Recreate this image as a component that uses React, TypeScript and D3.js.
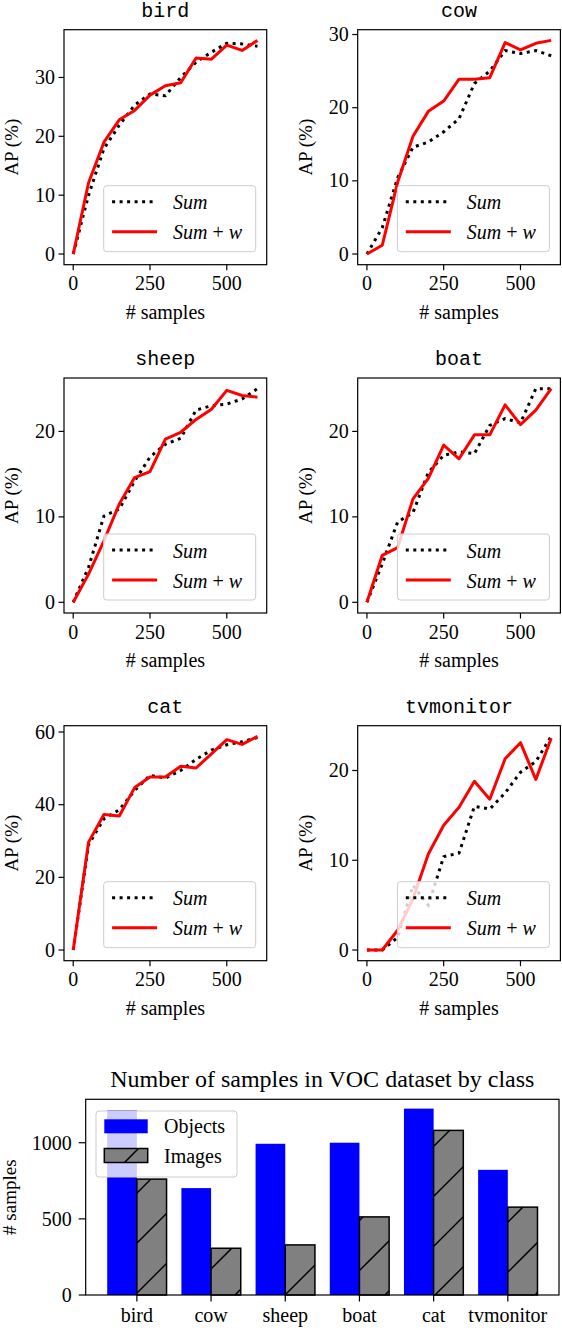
import React, { useEffect, useRef } from 'react';
import * as d3 from 'd3';

// sample counts on the x axis of every panel
const samples = [0, 50, 100, 150, 200, 250, 300, 350, 400, 450, 500, 550, 600];
const xTicks = [0, 250, 500];

const birdSum = [0, 10, 17.9, 21.9, 25.3, 27.2, 26.9, 30, 32.6, 34.3, 35.8, 35.7, 35.3];
const birdSumW = [0, 12.1, 19, 22.8, 24.4, 27, 28.6, 29.1, 33.3, 33.1, 35.5, 34.6, 36.3];
const cowSum = [0, 3.6, 10.4, 14.6, 15.3, 16.7, 18.5, 23.3, 25, 27.8, 27.4, 27.8, 27.1];
const cowSumW = [0, 1.2, 9.8, 16.1, 19.5, 20.9, 23.9, 23.9, 24.1, 28.9, 27.9, 28.8, 29.2];
const sheepSum = [0, 4.1, 10.1, 10.9, 14.2, 17, 18.5, 19.2, 22.5, 23, 23.2, 23.8, 25];
const sheepSumW = [0, 3.3, 7.2, 11.5, 14.6, 15.3, 19.1, 19.9, 21.4, 22.6, 24.8, 24.2, 24];
const boatSum = [0, 4.5, 9.4, 10.5, 15.2, 17.2, 17.6, 17.4, 20.7, 21.5, 21, 25, 25];
const boatSumW = [0, 5.5, 6.4, 12.1, 14.5, 18.4, 16.8, 19.6, 19.6, 23.1, 20.8, 22.5, 25];
const catSum = [0, 29, 36.1, 38.6, 43.9, 48.1, 47.3, 49.4, 52.5, 55, 56.5, 57.3, 58.5];
const catSumW = [0, 29.7, 37.3, 36.9, 44.7, 47.6, 47.6, 50.6, 50.1, 54, 57.9, 56.6, 58.8];
const tvSum = [0, 0, 1.4, 7.2, 5, 10.4, 10.8, 16, 15.7, 17.5, 19.8, 21, 23.8];
const tvSumW = [0, 0, 2.2, 5.7, 10.7, 13.9, 15.9, 18.8, 16.8, 21.3, 23.1, 19, 23.6];

// bar chart
const classNames = ['bird', 'cow', 'sheep', 'boat', 'cat', 'tvmonitor'];
const objectCounts = [1212, 702, 993, 1000, 1224, 822];
const imageCounts = [761, 307, 329, 513, 1081, 577];
const countTicks = [0, 500, 1000];

const SERIF = '"Liberation Serif", "Times New Roman", serif';
const MONO = '"Liberation Mono", "DejaVu Sans Mono", monospace';

const App = () => {
  const ref = useRef<SVGSVGElement>(null);

  useEffect(() => {
    const svg = d3.select(ref.current);
    svg.selectAll('*').remove();

    const panels = [
      { name: 'bird', sum: birdSum, sumW: birdSumW },
      { name: 'cow', sum: cowSum, sumW: cowSumW },
      { name: 'sheep', sum: sheepSum, sumW: sheepSumW },
      { name: 'boat', sum: boatSum, sumW: boatSumW },
      { name: 'cat', sum: catSum, sumW: catSumW },
      { name: 'tvmonitor', sum: tvSum, sumW: tvSumW },
    ];

    const colX = [64, 357.7];
    const rowY = [29.7, 378, 725.7];
    const axW = 202.7;
    const axH = 235;

    panels.forEach((p, i) => {
      const g = svg
        .append('g')
        .attr('transform', `translate(${colX[i % 2]},${rowY[Math.floor(i / 2)]})`);

      const x = d3.scaleLinear().domain([-30, 630]).range([0, axW]);
      const maxV = d3.max([...p.sum, ...p.sumW]) as number;
      const pad = maxV * 0.05;
      const y = d3.scaleLinear().domain([-pad, maxV + pad]).range([axH, 0]);

      const line = d3
        .line<number>()
        .x((_, k) => x(samples[k]))
        .y((d) => y(d));

      g.append('path')
        .attr('d', line(p.sum))
        .attr('fill', 'none')
        .attr('stroke', 'black')
        .attr('stroke-width', 3)
        .attr('stroke-dasharray', '3,4.5');

      g.append('path')
        .attr('d', line(p.sumW))
        .attr('fill', 'none')
        .attr('stroke', '#ff0000')
        .attr('stroke-width', 3)
        .attr('stroke-linejoin', 'round');

      // x ticks
      xTicks.forEach((t) => {
        g.append('line')
          .attr('x1', x(t)).attr('x2', x(t))
          .attr('y1', axH).attr('y2', axH + 5.5)
          .attr('stroke', 'black').attr('stroke-width', 1.2);
        g.append('text')
          .attr('x', x(t)).attr('y', axH + 25.5)
          .attr('text-anchor', 'middle')
          .attr('font-family', SERIF).attr('font-size', 20)
          .text(t);
      });

      // y ticks
      y.ticks(3).forEach((t) => {
        g.append('line')
          .attr('x1', -5.5).attr('x2', 0)
          .attr('y1', y(t)).attr('y2', y(t))
          .attr('stroke', 'black').attr('stroke-width', 1.2);
        g.append('text')
          .attr('x', -9).attr('y', y(t) + 6.5)
          .attr('text-anchor', 'end')
          .attr('font-family', SERIF).attr('font-size', 20)
          .text(t);
      });

      g.append('rect')
        .attr('width', axW).attr('height', axH)
        .attr('fill', 'none').attr('stroke', 'black').attr('stroke-width', 1.2);

      g.append('text')
        .attr('x', axW / 2).attr('y', -13)
        .attr('text-anchor', 'middle')
        .attr('font-family', MONO).attr('font-size', 20)
        .text(p.name);

      g.append('text')
        .attr('x', axW / 2).attr('y', axH + 54)
        .attr('text-anchor', 'middle')
        .attr('font-family', SERIF).attr('font-size', 20)
        .text('# samples');

      g.append('text')
        .attr('transform', `translate(-46,${axH / 2}) rotate(-90)`)
        .attr('text-anchor', 'middle')
        .attr('font-family', SERIF).attr('font-size', 19)
        .text('AP (%)');

      // legend
      const lw = 152, lh = 66;
      const lg = g.append('g').attr('transform', `translate(${axW - 11 - lw},${axH - 13 - lh})`);
      lg.append('rect')
        .attr('width', lw).attr('height', lh).attr('rx', 3)
        .attr('fill', 'white').attr('fill-opacity', 0.8)
        .attr('stroke', '#cccccc').attr('stroke-width', 1);
      const rows = [16, 46];
      lg.append('line')
        .attr('x1', 8.4).attr('x2', 53.4).attr('y1', rows[0]).attr('y2', rows[0])
        .attr('stroke', 'black').attr('stroke-width', 3).attr('stroke-dasharray', '3,4.5');
      lg.append('line')
        .attr('x1', 8.4).attr('x2', 53.4).attr('y1', rows[1]).attr('y2', rows[1])
        .attr('stroke', '#ff0000').attr('stroke-width', 3);
      lg.append('text')
        .attr('x', 69.4).attr('y', rows[0] + 7.5)
        .attr('font-family', SERIF).attr('font-size', 20).attr('font-style', 'italic')
        .text('Sum');
      const t2 = lg.append('text')
        .attr('x', 69.4).attr('y', rows[1] + 7.5)
        .attr('font-family', SERIF).attr('font-size', 20)
        .style('white-space', 'pre');
      t2.append('tspan').attr('font-style', 'italic').text('Sum');
      t2.append('tspan').text(' + ');
      t2.append('tspan').attr('font-style', 'italic').text('w');
    });

    // ---- bar chart ----
    const bx0 = 85.7, bx1 = 559, by0 = 1099.3, by1 = 1295;
    const bx = d3.scaleLinear().domain([-0.69, 5.69]).range([bx0, bx1]);
    const maxCount = d3.max([...objectCounts, ...imageCounts]) as number;
    const by = d3.scaleLinear().domain([0, maxCount * 1.05]).range([by1, by0]);
    const bw = 0.4;

    const defs = svg.append('defs');
    const pat = defs
      .append('pattern')
      .attr('id', 'hatch')
      .attr('patternUnits', 'userSpaceOnUse')
      .attr('width', 50).attr('height', 50);
    pat.append('line').attr('x1', -5).attr('y1', 35).attr('x2', 35).attr('y2', -5)
      .attr('stroke', 'black').attr('stroke-width', 1.5);
    pat.append('line').attr('x1', 25).attr('y1', 55).attr('x2', 55).attr('y2', 25)
      .attr('stroke', 'black').attr('stroke-width', 1.5);

    classNames.forEach((_, i) => {
      svg.append('rect')
        .attr('x', bx(i - bw)).attr('y', by(objectCounts[i]))
        .attr('width', bx(i) - bx(i - bw)).attr('height', by(0) - by(objectCounts[i]))
        .attr('fill', '#0000ff');
    });
    classNames.forEach((_, i) => {
      const r = {
        x: bx(i), y: by(imageCounts[i]),
        w: bx(i + bw) - bx(i), h: by(0) - by(imageCounts[i]),
      };
      svg.append('rect')
        .attr('x', r.x).attr('y', r.y).attr('width', r.w).attr('height', r.h)
        .attr('fill', '#808080');
      svg.append('rect')
        .attr('x', r.x).attr('y', r.y).attr('width', r.w).attr('height', r.h)
        .attr('fill', 'url(#hatch)')
        .attr('stroke', 'black').attr('stroke-width', 1.5);
    });

    svg.append('rect')
      .attr('x', bx0).attr('y', by0).attr('width', bx1 - bx0).attr('height', by1 - by0)
      .attr('fill', 'none').attr('stroke', 'black').attr('stroke-width', 1.2);

    classNames.forEach((c, i) => {
      svg.append('line')
        .attr('x1', bx(i)).attr('x2', bx(i)).attr('y1', by1).attr('y2', by1 + 6.5)
        .attr('stroke', 'black').attr('stroke-width', 1.2);
      svg.append('text')
        .attr('x', bx(i)).attr('y', 1321.5)
        .attr('text-anchor', 'middle')
        .attr('font-family', SERIF).attr('font-size', 20)
        .text(c);
    });
    countTicks.forEach((t) => {
      svg.append('line')
        .attr('x1', bx0 - 7).attr('x2', bx0).attr('y1', by(t)).attr('y2', by(t))
        .attr('stroke', 'black').attr('stroke-width', 1.2);
      svg.append('text')
        .attr('x', bx0 - 14).attr('y', by(t) + 7)
        .attr('text-anchor', 'end')
        .attr('font-family', SERIF).attr('font-size', 20)
        .text(t);
    });

    svg.append('text')
      .attr('x', (bx0 + bx1) / 2).attr('y', 1086.5)
      .attr('text-anchor', 'middle')
      .attr('font-family', SERIF).attr('font-size', 24)
      .text('Number of samples in VOC dataset by class');

    svg.append('text')
      .attr('transform', `translate(16,${(by0 + by1) / 2}) rotate(-90)`)
      .attr('text-anchor', 'middle')
      .attr('font-family', SERIF).attr('font-size', 19)
      .text('# samples');

    // bar legend
    const bl = svg.append('g').attr('transform', 'translate(96,1111)');
    bl.append('rect')
      .attr('width', 141).attr('height', 66).attr('rx', 3)
      .attr('fill', 'white').attr('fill-opacity', 0.8)
      .attr('stroke', '#cccccc').attr('stroke-width', 1);
    bl.append('rect')
      .attr('x', 8.3).attr('y', 8.3).attr('width', 43.4).attr('height', 14)
      .attr('fill', '#0000ff');
    bl.append('rect')
      .attr('x', 8.3).attr('y', 37.5).attr('width', 43.4).attr('height', 14)
      .attr('fill', '#808080');
    bl.append('rect')
      .attr('x', 8.3).attr('y', 37.5).attr('width', 43.4).attr('height', 14)
      .attr('fill', 'url(#hatch)')
      .attr('stroke', 'black').attr('stroke-width', 1.5);
    ['Objects', 'Images'].forEach((s, k) => {
      bl.append('text')
        .attr('x', 68).attr('y', k === 0 ? 22 : 51.5)
        .attr('font-family', SERIF).attr('font-size', 20)
        .text(s);
    });
  }, []);

  return (
    <svg
      ref={ref}
      width={562}
      height={1330}
      style={{ position: 'absolute', left: 0, top: 0, background: 'white' }}
    />
  );
};

export default App;
